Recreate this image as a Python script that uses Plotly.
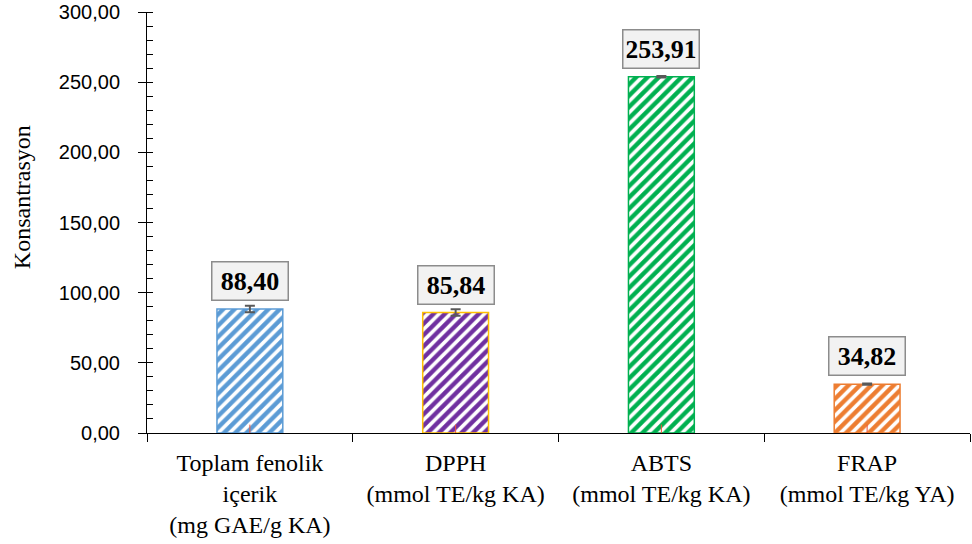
import plotly.graph_objects as go

categories = ["Toplam fenolik<br>içerik<br>(mg GAE/g KA)", "DPPH<br>(mmol TE/kg KA)",
              "ABTS<br>(mmol TE/kg KA)", "FRAP<br>(mmol TE/kg YA)"]
values = [88.40, 85.84, 253.91, 34.82]
errors = [2.3, 2.3, 0.5, 0.4]
fill_colors = ["#5B9BD5", "#7030A0", "#00B050", "#ED7D31"]
border_colors = ["#5B9BD5", "#FFC000", "#00B050", "#ED7D31"]
y_ticks = [0, 50, 100, 150, 200, 250, 300]

fig = go.Figure()
fig.add_trace(go.Bar(
    x=categories, y=values, width=0.32,
    marker=dict(color="white",
                line=dict(color=border_colors, width=1.5),
                pattern=dict(shape="/", fgcolor=fill_colors, bgcolor="white",
                             size=8, solidity=0.55, fillmode="replace")),
    error_y=dict(type="data", array=errors, color="#595959", thickness=2, width=5),
    showlegend=False, hoverinfo="skip",
))
# small inner tick marks at category centres (lower half clipped by plot area)
fig.add_trace(go.Scatter(x=categories, y=[0] * len(categories), mode="markers",
                         marker=dict(symbol="line-ns-open", size=12,
                                     line=dict(color="black", width=1)),
                         cliponaxis=True, showlegend=False, hoverinfo="skip"))

for c, v in zip(categories, values):
    fig.add_annotation(x=c, y=v, text="<b>" + f"{v:.2f}".replace(".", ",") + "</b>",
                       showarrow=False, yanchor="bottom", yshift=8,
                       width=69, height=31,
                       font=dict(family="Liberation Serif", size=26, color="black"),
                       bgcolor="#F2F2F2", bordercolor="#8C8C8C", borderwidth=1.5,
                       borderpad=3)

fig.add_annotation(text="Konsantrasyon", xref="paper", yref="paper",
                   x=-0.152, y=0.56, textangle=-90, showarrow=False,
                   xanchor="center", yanchor="middle",
                   font=dict(family="Liberation Serif", size=24, color="black"))

fig.update_layout(
    width=972, height=544,
    margin=dict(l=147, r=2, t=12, b=111),
    plot_bgcolor="white", paper_bgcolor="white",
    separators=",.",
    xaxis=dict(type="category", tickson="boundaries", ticks="outside", ticklen=8,
               tickcolor="black", showline=True, linecolor="black", linewidth=1,
               showgrid=False, range=[-0.5, 3.5], ticklabelstandoff=8,
               tickfont=dict(family="Liberation Serif", size=24, color="black")),
    yaxis=dict(range=[0, 300], tickvals=y_ticks, tickformat=".2f", ticks="outside",
               ticklen=8, tickcolor="black", showline=True, linecolor="black",
               linewidth=1, showgrid=False, zeroline=False, ticklabelstandoff=14,
               minor=dict(dtick=10, ticks="inside", ticklen=6, tickcolor="black"),
               tickfont=dict(family="Liberation Sans", size=20, color="black")),
)

fig.write_html("out.html", post_script="document.body.style.margin='0px';",
               config={"displayModeBar": False})
